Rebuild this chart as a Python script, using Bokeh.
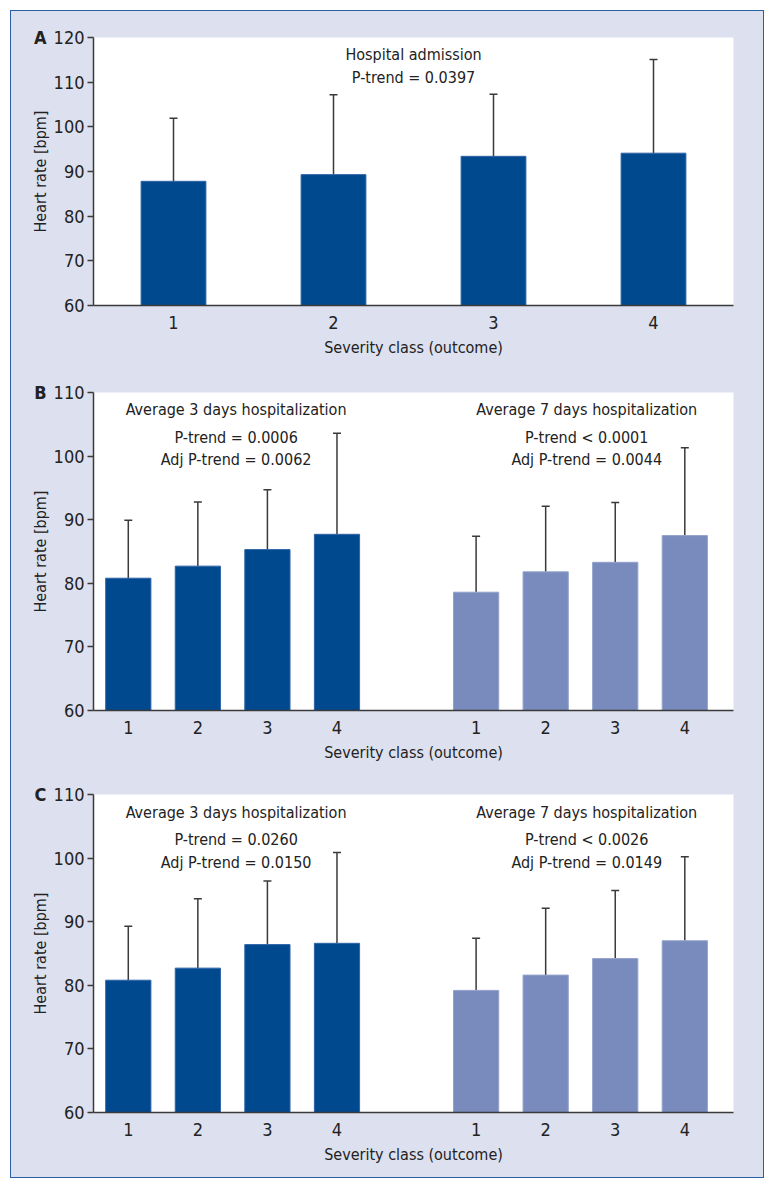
from bokeh.plotting import figure
from bokeh.layouts import column
from bokeh.models import (ColumnDataSource, Range1d, FixedTicker, LinearAxis,
                          Whisker, TeeHead)
from bokeh.core.properties import value
from bokeh.embed import file_html
from bokeh.resources import INLINE

# ---------------- data ----------------
classes = [1, 2, 3, 4]
class_labels = ["1", "2", "3", "4"]

a_mean = [87.8, 89.3, 93.4, 94.1]
a_upper = [101.9, 107.2, 107.3, 115.1]

b3_mean = [80.8, 82.7, 85.3, 87.7]
b3_upper = [89.9, 92.8, 94.7, 103.6]
b7_mean = [78.6, 81.8, 83.3, 87.5]
b7_upper = [87.4, 92.1, 92.7, 101.3]

c3_mean = [80.8, 82.7, 86.4, 86.6]
c3_upper = [89.3, 93.6, 96.4, 100.9]
c7_mean = [79.2, 81.6, 84.2, 87.0]
c7_upper = [87.4, 92.1, 94.9, 100.2]

a_text = ["Hospital admission", "P-trend = 0.0397"]
b3_text = ["Average 3 days hospitalization", "P-trend = 0.0006", "Adj P-trend = 0.0062"]
b7_text = ["Average 7 days hospitalization", "P-trend < 0.0001", "Adj P-trend = 0.0044"]
c3_text = ["Average 3 days hospitalization", "P-trend = 0.0260", "Adj P-trend = 0.0150"]
c7_text = ["Average 7 days hospitalization", "P-trend < 0.0026", "Adj P-trend = 0.0149"]

panel_letters = ["A", "B", "C"]
y_label = "Heart rate [bpm]"
x_label = "Severity class (outcome)"

# ---------------- style ----------------
FONT = "'Liberation Sans Narrow', 'DejaVu Sans Condensed', sans-serif"
BG = "#dde0ee"
DARK = "#00498f"
DARK_EDGE = "#2e64a6"
LIGHT = "#798bbd"
LIGHT_EDGE = "#93a2cc"
AXIS = "#3a3a3a"
TXT = "#222222"
W = 752
LEFT = 82


def make_fig(height, top, bottom, frame_h, x_end, y_start, y_end, y_step, letter):
    p = figure(width=W, height=height, output_backend="svg", toolbar_location=None,
               x_range=Range1d(0.5, x_end), y_range=Range1d(y_start, y_end),
               min_border_left=LEFT, min_border_right=W - LEFT - 640,
               min_border_top=top, min_border_bottom=bottom,
               frame_width=640, frame_height=frame_h)
    p.background_fill_color = "white"
    p.border_fill_color = BG
    p.outline_line_color = None
    p.grid.visible = False
    p.yaxis.ticker = FixedTicker(ticks=list(range(y_start, y_end + 1, y_step)))
    for ax in (p.xaxis[0], p.yaxis[0]):
        ax.axis_line_color = AXIS
        ax.axis_line_width = 1.5
        ax.major_tick_line_color = AXIS
        ax.major_tick_line_width = 1.5
        ax.minor_tick_line_color = None
        ax.major_label_text_font = FONT
        ax.major_label_text_font_size = "18px"
        ax.major_label_text_color = TXT
        ax.axis_label_text_font = FONT
        ax.axis_label_text_font_style = "normal"
        ax.axis_label_text_color = TXT
    p.yaxis.major_tick_out = 6
    p.yaxis.major_tick_in = 0
    p.yaxis.major_label_standoff = 3
    p.yaxis.axis_label = y_label
    p.yaxis.axis_label_text_font_size = "16px"
    p.yaxis.axis_label_standoff = 1
    p.xaxis.major_tick_out = 0
    p.xaxis.major_tick_in = 0
    p.xaxis.major_label_standoff = 10
    p.xaxis.axis_label = x_label
    p.xaxis.axis_label_text_font_size = "16px"
    p.xaxis.axis_label_standoff = 6

    # panel letter: an extra left axis carrying a single bold label at the top
    la = LinearAxis(ticker=FixedTicker(ticks=[y_end]),
                    major_label_overrides={y_end: letter},
                    axis_line_color=None, major_tick_line_color=None,
                    minor_tick_line_color=None,
                    major_tick_in=0, major_tick_out=0,
                    major_label_standoff=-19,
                    major_label_text_font=FONT,
                    major_label_text_font_style="bold",
                    major_label_text_font_size="18px",
                    major_label_text_color=TXT)
    p.add_layout(la, "left")
    return p


def add_bars(p, xs, means, uppers, width, color, edge):
    src = ColumnDataSource(dict(x=xs, mean=means, upper=uppers))
    p.vbar(x="x", top="mean", bottom=p.y_range.start, width=width, source=src,
           fill_color=color, line_color=edge, line_width=1)
    w = Whisker(source=src, base="x", lower="mean", upper="upper",
                line_color=AXIS, line_width=1.5,
                upper_head=TeeHead(size=8, line_color=AXIS, line_width=1.5),
                lower_head=None)
    p.add_layout(w)


def add_texts(p, x, ys, lines):
    p.text(x=[x] * len(lines), y=ys, text=lines, text_align="center",
           text_baseline="middle", text_font=value(FONT),
           text_font_size="16px", text_color=TXT)


# ---------------- panel A ----------------
pA = make_fig(357, 26, 63, 268, 4.5, 60, 120, 10, panel_letters[0])
pA.xaxis[0].ticker = FixedTicker(ticks=classes)
pA.xaxis[0].major_label_overrides = {c: l for c, l in zip(classes, class_labels)}
add_bars(pA, classes, a_mean, a_upper, 0.405, DARK, DARK_EDGE)
add_texts(pA, 2.5, [116.2, 111.05], a_text)

# ---------------- panels B, C ----------------
x3 = classes
x7 = [c + 5 for c in classes]


def grouped(height, top, bottom, m3, u3, m7, u7, t3, t7, ys, letter):
    p = make_fig(height, top, bottom, 318, 9.7, 60, 110, 10, letter)
    ticks = x3 + x7
    p.xaxis[0].ticker = FixedTicker(ticks=ticks)
    p.xaxis[0].major_label_overrides = {t: l for t, l in zip(ticks, class_labels + class_labels)}
    add_bars(p, x3, m3, u3, 0.65, DARK, DARK_EDGE)
    add_bars(p, x7, m7, u7, 0.65, LIGHT, LIGHT_EDGE)
    add_texts(p, 2.55, ys, t3)
    add_texts(p, 7.59, ys, t7)
    return p


pB = grouped(402, 24, 60, b3_mean, b3_upper, b7_mean, b7_upper, b3_text, b7_text,
             [107.3, 102.97, 99.47], panel_letters[1])
pC = grouped(407, 24, 65, c3_mean, c3_upper, c7_mean, c7_upper, c3_text, c7_text,
             [107.2, 102.87, 99.35], panel_letters[2])

layout = column(pA, pB, pC, spacing=0, margin=(10, 0, 0, 10),
                styles={"border": "1px solid #2a5fa5", "background-color": BG})

open("out.html", "w").write(file_html(layout, INLINE))
